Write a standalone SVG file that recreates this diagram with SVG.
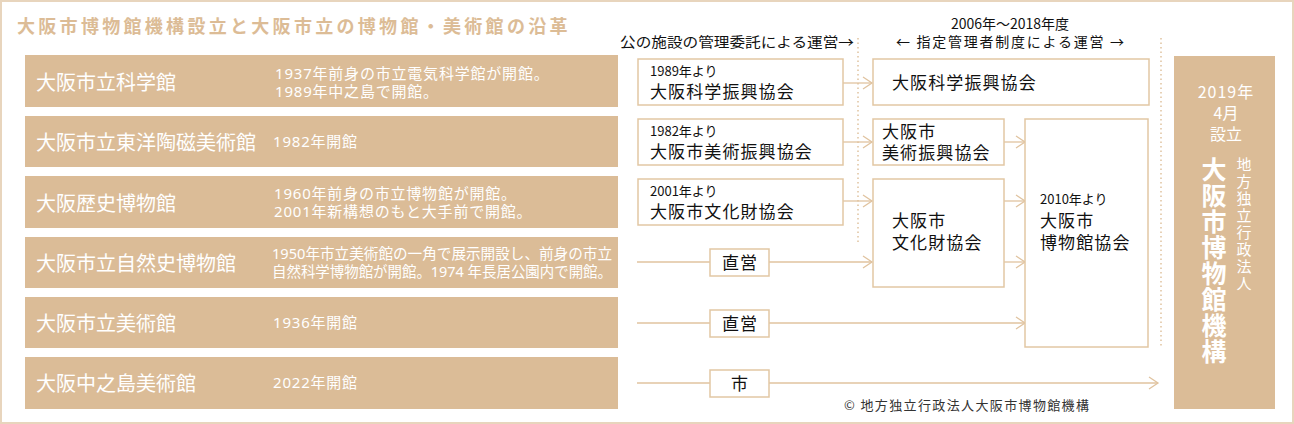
<svg xmlns="http://www.w3.org/2000/svg" width="1294" height="424" viewBox="0 0 1294 424">
<style>
text{font-family:"Noto Sans CJK JP","Noto Sans CJK SC",sans-serif}
.row{fill:#dbbc97}
.rt{fill:#fff;font-size:20px}
.rd{fill:#fff;font-size:15px;letter-spacing:0.8px;font-family:"Noto Sans","Noto Sans CJK JP",sans-serif}
.box{fill:#fff;stroke:#e2c7a4;stroke-width:1.5}
.sm{fill:#111;font-size:13px}
.org{fill:#111;font-size:17px;letter-spacing:1.1px}
.hd{fill:#111;font-size:14px}
.ln{fill:none;stroke:#e0c39f;stroke-width:1.3}
.dot{fill:none;stroke:#dfc29e;stroke-width:1.5;stroke-dasharray:1.5 3}
.wt{fill:#fff;text-anchor:middle}
.vt{fill:#fff;writing-mode:vertical-rl;text-anchor:start}
</style>
<defs>
<marker id="ah" markerUnits="userSpaceOnUse" markerWidth="12" markerHeight="14" refX="10" refY="7" orient="auto">
<path d="M1,1 L10,7 L1,13" fill="none" stroke="#e0c39f" stroke-width="1.3"/>
</marker>
</defs>
<rect x="1" y="1" width="1292" height="422" fill="#fff" stroke="#e8d5bd" stroke-width="2"/>
<text x="17" y="33" style="fill:#dcbc96;font-size:18px;font-weight:700;letter-spacing:3.3px">大阪市博物館機構設立と大阪市立の博物館・美術館の沿革</text>

<g id="row1"><rect class="row" x="25" y="55" width="593" height="52"/><text class="rt" x="36" y="90">大阪市立科学館</text><text class="rd" x="275" y="79">1937年前身の市立電気科学館が開館。</text><text class="rd" x="275" y="97">1989年中之島で開館。</text></g>
<g id="row2"><rect class="row" x="25" y="116" width="593" height="51"/><text class="rt" x="36" y="150">大阪市立東洋陶磁美術館</text><text class="rd" x="273" y="147">1982年開館</text></g>
<g id="row3"><rect class="row" x="25" y="176" width="593" height="52"/><text class="rt" x="36" y="211">大阪歴史博物館</text><text class="rd" x="274" y="199">1960年前身の市立博物館が開館。</text><text class="rd" x="274" y="217">2001年新構想のもと大手前で開館。</text></g>
<g id="row4"><rect class="row" x="25" y="237" width="593" height="51"/><text class="rt" x="36" y="271">大阪市立自然史博物館</text><text class="rd" x="272" y="259" textLength="340" lengthAdjust="spacingAndGlyphs" style="letter-spacing:0">1950年市立美術館の一角で展示開設し、前身の市立</text><text class="rd" x="272" y="277" textLength="340" lengthAdjust="spacingAndGlyphs" style="letter-spacing:0">自然科学博物館が開館。1974 年長居公園内で開館。</text></g>
<g id="row5"><rect class="row" x="25" y="297" width="593" height="51"/><text class="rt" x="36" y="331">大阪市立美術館</text><text class="rd" x="273" y="328">1936年開館</text></g>
<g id="row6"><rect class="row" x="25" y="357" width="593" height="52"/><text class="rt" x="36" y="391">大阪中之島美術館</text><text class="rd" x="273" y="388">2022年開館</text></g>

<text class="hd" x="620" y="47" textLength="234" lengthAdjust="spacingAndGlyphs">公の施設の管理委託による運営→</text>
<text class="hd" x="1010" y="29" text-anchor="middle">2006年～2018年度</text>
<text class="hd" x="896" y="47" textLength="228" lengthAdjust="spacing">← 指定管理者制度による運営 →</text>

<g id="connectors">
<line class="dot" x1="858" y1="38" x2="858" y2="242"/>
<line class="dot" x1="1161" y1="38" x2="1161" y2="348"/>
<line class="ln" x1="843" y1="83" x2="872" y2="83" marker-end="url(#ah)"/>
<line class="ln" x1="843" y1="142" x2="872" y2="142" marker-end="url(#ah)"/>
<line class="ln" x1="843" y1="201" x2="872" y2="201" marker-end="url(#ah)"/>
<line class="ln" x1="1004" y1="142" x2="1025" y2="142" marker-end="url(#ah)"/>
<line class="ln" x1="1004" y1="201" x2="1025" y2="201" marker-end="url(#ah)"/>
<line class="ln" x1="1004" y1="262" x2="1025" y2="262" marker-end="url(#ah)"/>
<line class="ln" x1="637" y1="262" x2="710" y2="262"/>
<line class="ln" x1="769" y1="262" x2="872" y2="262" marker-end="url(#ah)"/>
<line class="ln" x1="637" y1="323" x2="710" y2="323"/>
<line class="ln" x1="769" y1="323" x2="1025" y2="323" marker-end="url(#ah)"/>
<line class="ln" x1="637" y1="383" x2="710" y2="383"/>
<line class="ln" x1="769" y1="383" x2="1158" y2="383" marker-end="url(#ah)"/>
</g>

<g id="kagaku1"><rect class="box" x="638" y="59" width="205" height="46"/><text class="sm" x="650" y="76">1989年より</text><text class="org" x="650" y="98">大阪科学振興協会</text></g>
<g id="bijutsu1"><rect class="box" x="638" y="119" width="205" height="46"/><text class="sm" x="650" y="136">1982年より</text><text class="org" x="650" y="158">大阪市美術振興協会</text></g>
<g id="bunka1"><rect class="box" x="638" y="179" width="205" height="46"/><text class="sm" x="650" y="196">2001年より</text><text class="org" x="650" y="218">大阪市文化財協会</text></g>
<g id="kagaku2"><rect class="box" x="873" y="59" width="276" height="46"/><text class="org" x="892" y="89">大阪科学振興協会</text></g>
<g id="bijutsu2"><rect class="box" x="873" y="119" width="131" height="46"/><text class="org" x="882" y="138">大阪市</text><text class="org" x="882" y="159">美術振興協会</text></g>
<g id="bunka2"><rect class="box" x="873" y="179" width="131" height="108"/><text class="org" x="892" y="227">大阪市</text><text class="org" x="892" y="249">文化財協会</text></g>
<g id="hakubutsu"><rect class="box" x="1025" y="119" width="123" height="228"/><text class="sm" x="1040" y="204">2010年より</text><text class="org" x="1040" y="227">大阪市</text><text class="org" x="1040" y="249">博物館協会</text></g>
<g id="chokuei1"><rect class="box" x="710" y="249" width="59" height="27"/><text class="org" x="740" y="269" text-anchor="middle">直営</text></g>
<g id="chokuei2"><rect class="box" x="710" y="310" width="59" height="27"/><text class="org" x="740" y="330" text-anchor="middle">直営</text></g>
<g id="shi"><rect class="box" x="710" y="370" width="59" height="27"/><text class="org" x="740" y="390" text-anchor="middle">市</text></g>

<g id="kikou">
<rect class="row" x="1174" y="56" width="101" height="353"/>
<text class="wt" x="1226" y="98" style="font-size:16px;letter-spacing:1px">2019年</text>
<text class="wt" x="1226" y="119" style="font-size:16px">4月</text>
<text class="wt" x="1226" y="140" style="font-size:16px">設立</text>
<text class="vt" x="1214" y="157" style="font-size:25px;font-weight:700;letter-spacing:1px">大阪市博物館機構</text>
<text class="vt" x="1244" y="157" style="font-size:15px;letter-spacing:2px">地方独立行政法人</text>
</g>
<text x="844" y="410" style="fill:#333;font-size:13px" textLength="245" lengthAdjust="spacing">© 地方独立行政法人大阪市博物館機構</text>
</svg>
